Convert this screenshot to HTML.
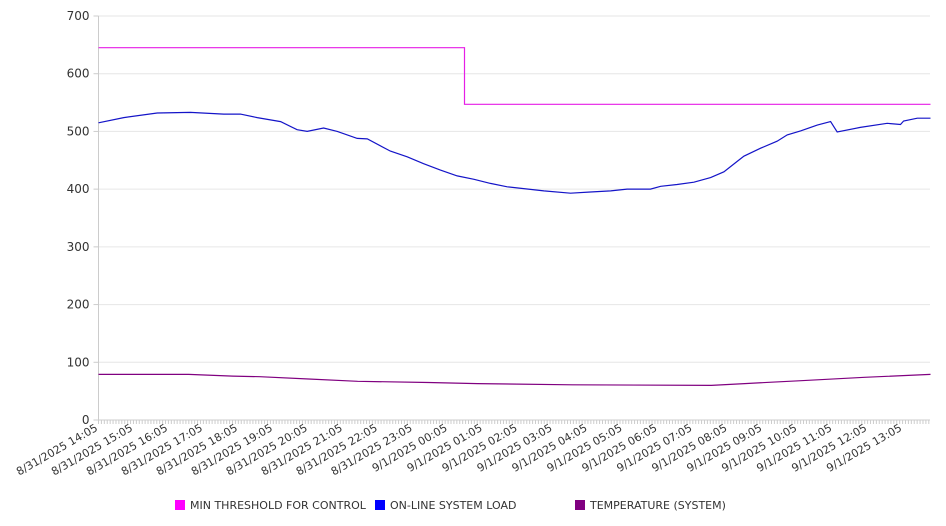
<!DOCTYPE html>
<html><head><meta charset="utf-8"><style>
html,body{margin:0;padding:0;background:#fff;}
svg{display:block;font-family:"DejaVu Sans","Liberation Sans",sans-serif;}
</style></head><body>
<svg id="chart" width="946" height="526" viewBox="0 0 946 526" xmlns="http://www.w3.org/2000/svg">
<g id="grid"></g>
<g id="yaxis"></g>
<g id="xaxis"></g>
<g id="series"></g>
<g id="legend"></g>
</svg>
<script>
const yTicks = [0,100,200,300,400,500,600,700];
const xTickLabels = ["8/31/2025 14:05","8/31/2025 15:05","8/31/2025 16:05","8/31/2025 17:05","8/31/2025 18:05","8/31/2025 19:05","8/31/2025 20:05","8/31/2025 21:05","8/31/2025 22:05","8/31/2025 23:05","9/1/2025 00:05","9/1/2025 01:05","9/1/2025 02:05","9/1/2025 03:05","9/1/2025 04:05","9/1/2025 05:05","9/1/2025 06:05","9/1/2025 07:05","9/1/2025 08:05","9/1/2025 09:05","9/1/2025 10:05","9/1/2025 11:05","9/1/2025 12:05","9/1/2025 13:05"];
const thresholdHours = [0,10.47,10.47,23.8];
const thresholdValues = [645,645,547,547];
const loadHours = [0,0.72,1.68,2.63,3.58,4.06,4.54,5.21,5.68,5.97,6.44,6.83,7.40,7.69,8.35,8.83,9.30,9.78,10.26,10.74,11.21,11.69,12.74,13.50,14.07,14.65,15.12,15.79,16.08,16.55,17.03,17.51,17.89,18.27,18.46,18.94,19.41,19.70,20.08,20.56,20.94,21.13,21.79,22.56,22.94,23.03,23.42,23.8];
const loadValues = [515,524,532,533,530,530,524,517,503,500,506,500,488,487,466,456,444,433,423,417,410,404,397,393,395,397,400,400,405,408,412,420,430,448,457,471,483,494,501,511,517,499,507,514,512,518,523,523];
const tempHours = [0,2.58,3.84,4.61,6.01,7.41,9.44,10.84,13.56,17.53,18.48,20.03,21.91,23.8];
const tempValues = [79,79,76,75,71,67,65,63,61,60,63,68,74,79];

const X0=98.5, HR=34.96, Y0=420, YT=16, YMAX=700, XEND=930;
const xs = h => X0 + h*HR;
const ys = v => Y0 - v/YMAX*(Y0-YT);
const NS="http://www.w3.org/2000/svg";
function mk(tag, parent, attrs){const e=document.createElementNS(NS,tag);for(const k in attrs)e.setAttribute(k,attrs[k]);parent.appendChild(e);return e;}

const grid=document.getElementById('grid'), yaxis=document.getElementById('yaxis'), xaxis=document.getElementById('xaxis');
yTicks.forEach(t=>{
  if(t>0){const g=mk('line',grid,{x1:X0,x2:XEND,y1:ys(t),y2:ys(t),stroke:'#e6e6e6','stroke-width':1});
  
  }
  const tk=mk('line',yaxis,{x1:X0-5,x2:X0,y1:ys(t),y2:ys(t),stroke:'#ccc'});
  
  
  const lb=mk('text',yaxis,{x:X0-9,y:ys(t)+4,'text-anchor':'end','font-size':12,fill:'#333'});
  lb.textContent=t;
  
  
});
const ya=mk('line',yaxis,{x1:X0,x2:X0,y1:YT,y2:Y0,stroke:'#ccc'});


const xa=mk('line',xaxis,{x1:X0,x2:XEND,y1:Y0,y2:Y0,stroke:'#ccc'});


for(let m=0; xs(m/12)<=XEND+0.1; m++){
  const x=xs(m/12);
  const t=mk('line',xaxis,{x1:x,x2:x,y1:Y0,y2:Y0+4,stroke:'#ccc'});
  
  
}
xTickLabels.forEach((s,i)=>{
  const x=xs(i), y=Y0+10;
  const lb=mk('text',xaxis,{x:x,y:y,'text-anchor':'end','font-size':11,fill:'#333',transform:`rotate(-30 ${x} ${y})`});
  lb.textContent=s;
  
  
});

const series=document.getElementById('series');
function line(hours, vals, color, name){
  const d=hours.map((h,i)=>(i?'L':'M')+xs(h).toFixed(1)+' '+ys(vals[i]).toFixed(1)).join(' ');
  const p=mk('path',series,{d:d,fill:'none',stroke:color,'stroke-width':1.2});
  
  
}
line(tempHours,tempValues,'#800080','temperature-line');
line(thresholdHours,thresholdValues,'#e61ee6','min-threshold-line');
line(loadHours,loadValues,'#1414c8','system-load-line');

const legend=document.getElementById('legend');
[["MIN THRESHOLD FOR CONTROL","#ff00ff",175],["ON-LINE SYSTEM LOAD","#0000ff",375],["TEMPERATURE (SYSTEM)","#800080",575]].forEach(([txt,c,x])=>{
  const g=mk('g',legend,{});
  
  
  const r=mk('rect',g,{x:x,y:500,width:10,height:10,fill:c});
  
  
  const t=mk('text',g,{x:x+15,y:509,'font-size':11,fill:'#333'});
  t.textContent=txt;
  
  
});
</script>
</body></html>
